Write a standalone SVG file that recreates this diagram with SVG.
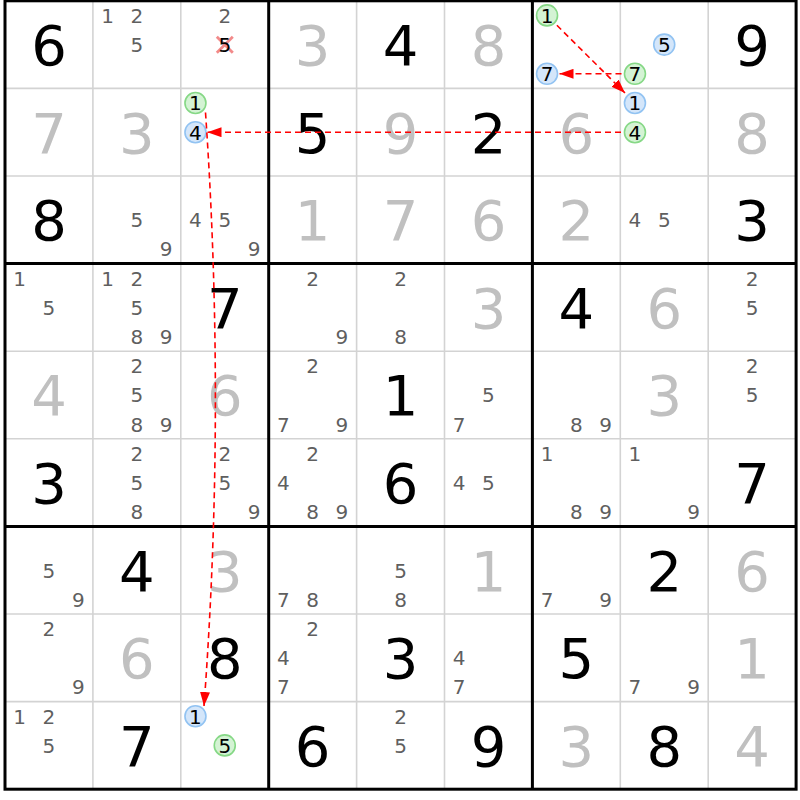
<svg xmlns="http://www.w3.org/2000/svg" width="800" height="800" viewBox="0 0 800 800">
<style>
text{font-family:"DejaVu Sans","Liberation Sans",sans-serif;text-anchor:middle}
.g{font-size:56px;fill:#000}
.s{font-size:56px;fill:#c0c0c0}
.c{font-size:20px;fill:#5f5f5f}
.k{font-size:20px;fill:#000}
.thin{stroke:#d3d3d3;stroke-width:1.6}
.thick{stroke:#000;stroke-width:3}
.cg{fill:#d4f3d4;stroke:#86d886;stroke-width:1.6}
.cb{fill:#d4e6fa;stroke:#92c3f2;stroke-width:1.6}
.link{fill:none;stroke:#ff0000;stroke-width:1.6;stroke-dasharray:6 4;marker-end:url(#ah)}
</style>
<defs>
<marker id="ah" markerUnits="userSpaceOnUse" markerWidth="14" markerHeight="10" refX="14" refY="5" orient="auto">
<path d="M0,0 L14,5 L0,10 z" fill="#ff0000"/>
</marker>
</defs>
<rect width="800" height="800" fill="#fff"/>
<g id="grid">
<g class="thin">
<line x1="92.9" y1="0.8" x2="92.9" y2="789.2"/>
<line x1="180.8" y1="0.8" x2="180.8" y2="789.2"/>
<line x1="356.6" y1="0.8" x2="356.6" y2="789.2"/>
<line x1="444.5" y1="0.8" x2="444.5" y2="789.2"/>
<line x1="620.3" y1="0.8" x2="620.3" y2="789.2"/>
<line x1="708.2" y1="0.8" x2="708.2" y2="789.2"/>
<line x1="5" y1="88.4" x2="796.1" y2="88.4"/>
<line x1="5" y1="176" x2="796.1" y2="176"/>
<line x1="5" y1="351.2" x2="796.1" y2="351.2"/>
<line x1="5" y1="438.8" x2="796.1" y2="438.8"/>
<line x1="5" y1="614" x2="796.1" y2="614"/>
<line x1="5" y1="701.6" x2="796.1" y2="701.6"/>
</g>
<g class="thick">
<line x1="268.7" y1="0.8" x2="268.7" y2="789.2"/>
<line x1="532.4" y1="0.8" x2="532.4" y2="789.2"/>
<line x1="5" y1="263.6" x2="796.1" y2="263.6"/>
<line x1="5" y1="526.4" x2="796.1" y2="526.4"/>
<rect x="5" y="0.8" width="791.1" height="788.4" fill="none"/>
</g>
</g>
<g id="cells">
<g id="r1c1" transform="translate(5,0.8)"><text class="g" x="43.95" y="64.2">6</text></g>
<g id="r1c2" transform="translate(92.9,0.8)"><text class="c" x="14.65" y="22">1</text><text class="c" x="43.95" y="22">2</text><text class="c" x="43.95" y="51.2">5</text></g>
<g id="r1c3" transform="translate(180.8,0.8)"><text class="c" x="43.95" y="22">2</text><path d="M36,36 L52,52 M52,36 L36,52" stroke="#f28a8a" stroke-width="2.8" fill="none"/><text class="k" x="43.95" y="51.2">5</text></g>
<g id="r1c4" transform="translate(268.7,0.8)"><text class="s" x="43.95" y="64.2">3</text></g>
<g id="r1c5" transform="translate(356.6,0.8)"><text class="g" x="43.95" y="64.2">4</text></g>
<g id="r1c6" transform="translate(444.5,0.8)"><text class="s" x="43.95" y="64.2">8</text></g>
<g id="r1c7" transform="translate(532.4,0.8)"><circle class="cg" cx="14.65" cy="14.6" r="10.5"/><text class="k" x="14.65" y="22">1</text><circle class="cb" cx="14.65" cy="73" r="10.5"/><text class="k" x="14.65" y="80.4">7</text></g>
<g id="r1c8" transform="translate(620.3,0.8)"><circle class="cb" cx="43.95" cy="43.8" r="10.5"/><text class="k" x="43.95" y="51.2">5</text><circle class="cg" cx="14.65" cy="73" r="10.5"/><text class="k" x="14.65" y="80.4">7</text></g>
<g id="r1c9" transform="translate(708.2,0.8)"><text class="g" x="43.95" y="64.2">9</text></g>

<g id="r2c1" transform="translate(5,88.4)"><text class="s" x="43.95" y="64.2">7</text></g>
<g id="r2c2" transform="translate(92.9,88.4)"><text class="s" x="43.95" y="64.2">3</text></g>
<g id="r2c3" transform="translate(180.8,88.4)"><circle class="cg" cx="14.65" cy="14.6" r="10.5"/><text class="k" x="14.65" y="22">1</text><circle class="cb" cx="14.65" cy="43.8" r="10.5"/><text class="k" x="14.65" y="51.2">4</text></g>
<g id="r2c4" transform="translate(268.7,88.4)"><text class="g" x="43.95" y="64.2">5</text></g>
<g id="r2c5" transform="translate(356.6,88.4)"><text class="s" x="43.95" y="64.2">9</text></g>
<g id="r2c6" transform="translate(444.5,88.4)"><text class="g" x="43.95" y="64.2">2</text></g>
<g id="r2c7" transform="translate(532.4,88.4)"><text class="s" x="43.95" y="64.2">6</text></g>
<g id="r2c8" transform="translate(620.3,88.4)"><circle class="cb" cx="14.65" cy="14.6" r="10.5"/><text class="k" x="14.65" y="22">1</text><circle class="cg" cx="14.65" cy="43.8" r="10.5"/><text class="k" x="14.65" y="51.2">4</text></g>
<g id="r2c9" transform="translate(708.2,88.4)"><text class="s" x="43.95" y="64.2">8</text></g>

<g id="r3c1" transform="translate(5,176)"><text class="g" x="43.95" y="64.2">8</text></g>
<g id="r3c2" transform="translate(92.9,176)"><text class="c" x="43.95" y="51.2">5</text><text class="c" x="73.25" y="80.4">9</text></g>
<g id="r3c3" transform="translate(180.8,176)"><text class="c" x="14.65" y="51.2">4</text><text class="c" x="43.95" y="51.2">5</text><text class="c" x="73.25" y="80.4">9</text></g>
<g id="r3c4" transform="translate(268.7,176)"><text class="s" x="43.95" y="64.2">1</text></g>
<g id="r3c5" transform="translate(356.6,176)"><text class="s" x="43.95" y="64.2">7</text></g>
<g id="r3c6" transform="translate(444.5,176)"><text class="s" x="43.95" y="64.2">6</text></g>
<g id="r3c7" transform="translate(532.4,176)"><text class="s" x="43.95" y="64.2">2</text></g>
<g id="r3c8" transform="translate(620.3,176)"><text class="c" x="14.65" y="51.2">4</text><text class="c" x="43.95" y="51.2">5</text></g>
<g id="r3c9" transform="translate(708.2,176)"><text class="g" x="43.95" y="64.2">3</text></g>

<g id="r4c1" transform="translate(5,263.6)"><text class="c" x="14.65" y="22">1</text><text class="c" x="43.95" y="51.2">5</text></g>
<g id="r4c2" transform="translate(92.9,263.6)"><text class="c" x="14.65" y="22">1</text><text class="c" x="43.95" y="22">2</text><text class="c" x="43.95" y="51.2">5</text><text class="c" x="43.95" y="80.4">8</text><text class="c" x="73.25" y="80.4">9</text></g>
<g id="r4c3" transform="translate(180.8,263.6)"><text class="g" x="43.95" y="64.2">7</text></g>
<g id="r4c4" transform="translate(268.7,263.6)"><text class="c" x="43.95" y="22">2</text><text class="c" x="73.25" y="80.4">9</text></g>
<g id="r4c5" transform="translate(356.6,263.6)"><text class="c" x="43.95" y="22">2</text><text class="c" x="43.95" y="80.4">8</text></g>
<g id="r4c6" transform="translate(444.5,263.6)"><text class="s" x="43.95" y="64.2">3</text></g>
<g id="r4c7" transform="translate(532.4,263.6)"><text class="g" x="43.95" y="64.2">4</text></g>
<g id="r4c8" transform="translate(620.3,263.6)"><text class="s" x="43.95" y="64.2">6</text></g>
<g id="r4c9" transform="translate(708.2,263.6)"><text class="c" x="43.95" y="22">2</text><text class="c" x="43.95" y="51.2">5</text></g>

<g id="r5c1" transform="translate(5,351.2)"><text class="s" x="43.95" y="64.2">4</text></g>
<g id="r5c2" transform="translate(92.9,351.2)"><text class="c" x="43.95" y="22">2</text><text class="c" x="43.95" y="51.2">5</text><text class="c" x="43.95" y="80.4">8</text><text class="c" x="73.25" y="80.4">9</text></g>
<g id="r5c3" transform="translate(180.8,351.2)"><text class="s" x="43.95" y="64.2">6</text></g>
<g id="r5c4" transform="translate(268.7,351.2)"><text class="c" x="43.95" y="22">2</text><text class="c" x="14.65" y="80.4">7</text><text class="c" x="73.25" y="80.4">9</text></g>
<g id="r5c5" transform="translate(356.6,351.2)"><text class="g" x="43.95" y="64.2">1</text></g>
<g id="r5c6" transform="translate(444.5,351.2)"><text class="c" x="43.95" y="51.2">5</text><text class="c" x="14.65" y="80.4">7</text></g>
<g id="r5c7" transform="translate(532.4,351.2)"><text class="c" x="43.95" y="80.4">8</text><text class="c" x="73.25" y="80.4">9</text></g>
<g id="r5c8" transform="translate(620.3,351.2)"><text class="s" x="43.95" y="64.2">3</text></g>
<g id="r5c9" transform="translate(708.2,351.2)"><text class="c" x="43.95" y="22">2</text><text class="c" x="43.95" y="51.2">5</text></g>

<g id="r6c1" transform="translate(5,438.8)"><text class="g" x="43.95" y="64.2">3</text></g>
<g id="r6c2" transform="translate(92.9,438.8)"><text class="c" x="43.95" y="22">2</text><text class="c" x="43.95" y="51.2">5</text><text class="c" x="43.95" y="80.4">8</text></g>
<g id="r6c3" transform="translate(180.8,438.8)"><text class="c" x="43.95" y="22">2</text><text class="c" x="43.95" y="51.2">5</text><text class="c" x="73.25" y="80.4">9</text></g>
<g id="r6c4" transform="translate(268.7,438.8)"><text class="c" x="43.95" y="22">2</text><text class="c" x="14.65" y="51.2">4</text><text class="c" x="43.95" y="80.4">8</text><text class="c" x="73.25" y="80.4">9</text></g>
<g id="r6c5" transform="translate(356.6,438.8)"><text class="g" x="43.95" y="64.2">6</text></g>
<g id="r6c6" transform="translate(444.5,438.8)"><text class="c" x="14.65" y="51.2">4</text><text class="c" x="43.95" y="51.2">5</text></g>
<g id="r6c7" transform="translate(532.4,438.8)"><text class="c" x="14.65" y="22">1</text><text class="c" x="43.95" y="80.4">8</text><text class="c" x="73.25" y="80.4">9</text></g>
<g id="r6c8" transform="translate(620.3,438.8)"><text class="c" x="14.65" y="22">1</text><text class="c" x="73.25" y="80.4">9</text></g>
<g id="r6c9" transform="translate(708.2,438.8)"><text class="g" x="43.95" y="64.2">7</text></g>

<g id="r7c1" transform="translate(5,526.4)"><text class="c" x="43.95" y="51.2">5</text><text class="c" x="73.25" y="80.4">9</text></g>
<g id="r7c2" transform="translate(92.9,526.4)"><text class="g" x="43.95" y="64.2">4</text></g>
<g id="r7c3" transform="translate(180.8,526.4)"><text class="s" x="43.95" y="64.2">3</text></g>
<g id="r7c4" transform="translate(268.7,526.4)"><text class="c" x="14.65" y="80.4">7</text><text class="c" x="43.95" y="80.4">8</text></g>
<g id="r7c5" transform="translate(356.6,526.4)"><text class="c" x="43.95" y="51.2">5</text><text class="c" x="43.95" y="80.4">8</text></g>
<g id="r7c6" transform="translate(444.5,526.4)"><text class="s" x="43.95" y="64.2">1</text></g>
<g id="r7c7" transform="translate(532.4,526.4)"><text class="c" x="14.65" y="80.4">7</text><text class="c" x="73.25" y="80.4">9</text></g>
<g id="r7c8" transform="translate(620.3,526.4)"><text class="g" x="43.95" y="64.2">2</text></g>
<g id="r7c9" transform="translate(708.2,526.4)"><text class="s" x="43.95" y="64.2">6</text></g>

<g id="r8c1" transform="translate(5,614)"><text class="c" x="43.95" y="22">2</text><text class="c" x="73.25" y="80.4">9</text></g>
<g id="r8c2" transform="translate(92.9,614)"><text class="s" x="43.95" y="64.2">6</text></g>
<g id="r8c3" transform="translate(180.8,614)"><text class="g" x="43.95" y="64.2">8</text></g>
<g id="r8c4" transform="translate(268.7,614)"><text class="c" x="43.95" y="22">2</text><text class="c" x="14.65" y="51.2">4</text><text class="c" x="14.65" y="80.4">7</text></g>
<g id="r8c5" transform="translate(356.6,614)"><text class="g" x="43.95" y="64.2">3</text></g>
<g id="r8c6" transform="translate(444.5,614)"><text class="c" x="14.65" y="51.2">4</text><text class="c" x="14.65" y="80.4">7</text></g>
<g id="r8c7" transform="translate(532.4,614)"><text class="g" x="43.95" y="64.2">5</text></g>
<g id="r8c8" transform="translate(620.3,614)"><text class="c" x="14.65" y="80.4">7</text><text class="c" x="73.25" y="80.4">9</text></g>
<g id="r8c9" transform="translate(708.2,614)"><text class="s" x="43.95" y="64.2">1</text></g>

<g id="r9c1" transform="translate(5,701.6)"><text class="c" x="14.65" y="22">1</text><text class="c" x="43.95" y="22">2</text><text class="c" x="43.95" y="51.2">5</text></g>
<g id="r9c2" transform="translate(92.9,701.6)"><text class="g" x="43.95" y="64.2">7</text></g>
<g id="r9c3" transform="translate(180.8,701.6)"><circle class="cb" cx="14.65" cy="14.6" r="10.5"/><text class="k" x="14.65" y="22">1</text><circle class="cg" cx="43.95" cy="43.8" r="10.5"/><text class="k" x="43.95" y="51.2">5</text></g>
<g id="r9c4" transform="translate(268.7,701.6)"><text class="g" x="43.95" y="64.2">6</text></g>
<g id="r9c5" transform="translate(356.6,701.6)"><text class="c" x="43.95" y="22">2</text><text class="c" x="43.95" y="51.2">5</text></g>
<g id="r9c6" transform="translate(444.5,701.6)"><text class="g" x="43.95" y="64.2">9</text></g>
<g id="r9c7" transform="translate(532.4,701.6)"><text class="s" x="43.95" y="64.2">3</text></g>
<g id="r9c8" transform="translate(620.3,701.6)"><text class="g" x="43.95" y="64.2">8</text></g>
<g id="r9c9" transform="translate(708.2,701.6)"><text class="s" x="43.95" y="64.2">4</text></g>
</g>
<g id="connectors">
<path class="link" d="M556.9,25.3 L625,93"/>
<path class="link" d="M621.5,73.8 L559.5,73.8"/>
<path class="link" d="M621,132.2 L207.5,132.2"/>
<path class="link" d="M205.5,112.5 Q226,410 204,706"/>
</g>
</svg>
